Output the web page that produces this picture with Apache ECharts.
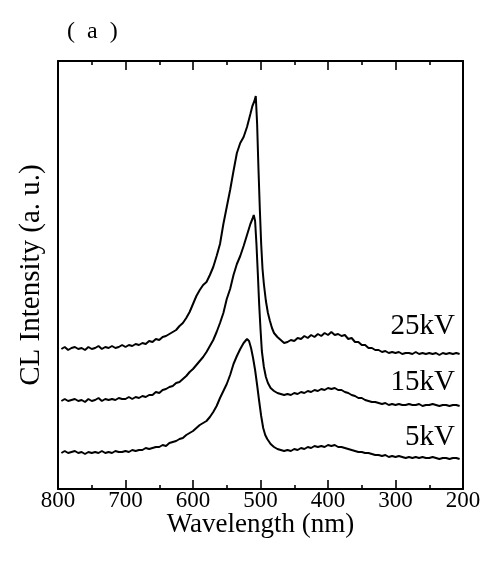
<!DOCTYPE html>
<html>
<head>
<meta charset="utf-8">
<script src="https://cdn.jsdelivr.net/npm/echarts@6/dist/echarts.min.js"></script>
<style>
  html, body { margin: 0; padding: 0; background: #fff; }
  #chart { width: 486px; height: 566px; }
</style>
</head>
<body>
<div id="chart"></div>
<script>
// CL spectra at three beam voltages, offset vertically (a.u.)
const FONT = "'Liberation Serif', 'Times New Roman', serif";

const kv25 = [
  [795, 140], [790, 142], [785, 139], [780, 141], [775, 142], [770, 140], [765, 141], [760, 139],
  [755, 142], [750, 140], [745, 141], [740, 143], [735, 140], [730, 142], [725, 141], [720, 143],
  [715, 141], [710, 142], [705, 144], [700, 142], [695, 144], [690, 143], [685, 145], [680, 144],
  [675, 146], [670, 145], [665, 148], [660, 147], [655, 150], [650, 149], [645, 152], [640, 153],
  [635, 155], [630, 157], [625, 159], [620, 163], [615, 166], [610, 171], [605, 177], [600, 185],
  [595, 193], [590, 199], [585, 204], [580, 207], [575, 214], [570, 222], [565, 233], [560, 245],
  [555, 265], [550, 282], [545, 299], [540, 318], [535, 336], [530, 346], [525, 352], [520, 362],
  [515, 375], [512, 383], [509, 388], [507, 393], [506, 391], [505, 365], [503, 320], [501, 280],
  [499, 245], [497, 220], [495, 205], [492, 188], [489, 176], [486, 168], [483, 161], [480, 156],
  [475, 152], [470, 149], [465, 146], [460, 147], [455, 149], [450, 148], [445, 151], [440, 150],
  [435, 153], [430, 151], [425, 154], [420, 152], [415, 155], [410, 153], [405, 156], [400, 154],
  [395, 157], [390, 154], [385, 155], [380, 153], [375, 154], [370, 150], [365, 151], [360, 147],
  [355, 147], [350, 144], [345, 144], [340, 141], [335, 141], [330, 139], [325, 139], [320, 137],
  [315, 138], [310, 136], [305, 137], [300, 136], [295, 137], [290, 135], [285, 136], [280, 136],
  [275, 135], [270, 137], [265, 135], [260, 136], [255, 135], [250, 136], [245, 135], [240, 136],
  [235, 134], [230, 136], [225, 135], [220, 136], [215, 135], [210, 136], [205, 135]
];

const kv15 = [
  [795, 88], [790, 90], [785, 88], [780, 89], [775, 90], [770, 88], [765, 89], [760, 87],
  [755, 90], [750, 88], [745, 89], [740, 91], [735, 88], [730, 90], [725, 89], [720, 90],
  [715, 89], [710, 91], [705, 90], [700, 90], [695, 92], [690, 90], [685, 92], [680, 91],
  [675, 93], [670, 92], [665, 94], [660, 94], [655, 97], [650, 96], [645, 99], [640, 100],
  [635, 102], [630, 103], [625, 106], [620, 107], [615, 110], [610, 113], [605, 117], [600, 120],
  [595, 124], [590, 128], [585, 132], [580, 137], [575, 143], [570, 149], [565, 157], [560, 166],
  [555, 176], [550, 190], [545, 200], [540, 214], [535, 225], [530, 233], [525, 243], [520, 254],
  [515, 265], [512, 270], [510, 274], [508, 268], [506, 245], [504, 216], [502, 185], [500, 160],
  [498, 138], [495, 122], [492, 112], [489, 106], [485, 101], [480, 98], [475, 96], [470, 95],
  [465, 94], [460, 95], [455, 94], [450, 96], [445, 95], [440, 97], [435, 96], [430, 98],
  [425, 97], [420, 99], [415, 98], [410, 100], [405, 99], [400, 101], [395, 100], [390, 101],
  [385, 99], [380, 99], [375, 97], [370, 96], [365, 94], [360, 93], [355, 91], [350, 91],
  [345, 89], [340, 88], [335, 87], [330, 87], [325, 86], [320, 85], [315, 86], [310, 84],
  [305, 85], [300, 84], [295, 85], [290, 84], [285, 84], [280, 85], [275, 84], [270, 84],
  [265, 85], [260, 83], [255, 84], [250, 84], [245, 85], [240, 84], [235, 83], [230, 84],
  [225, 84], [220, 83], [215, 84], [210, 84], [205, 83]
];

const kv5 = [
  [795, 36], [790, 38], [785, 36], [780, 37], [775, 38], [770, 36], [765, 37], [760, 35],
  [755, 37], [750, 36], [745, 37], [740, 36], [735, 38], [730, 36], [725, 37], [720, 36],
  [715, 38], [710, 37], [705, 37], [700, 38], [695, 37], [690, 39], [685, 38], [680, 39],
  [675, 39], [670, 41], [665, 40], [660, 41], [655, 42], [650, 42], [645, 44], [640, 43],
  [635, 46], [630, 47], [625, 48], [620, 50], [615, 51], [610, 54], [605, 56], [600, 58],
  [595, 61], [590, 64], [585, 66], [580, 68], [575, 72], [570, 77], [565, 83], [560, 91],
  [555, 98], [550, 105], [545, 114], [540, 125], [535, 133], [530, 140], [525, 146], [520, 150],
  [517, 148], [514, 141], [511, 131], [508, 119], [505, 104], [502, 88], [499, 73], [496, 61],
  [493, 54], [490, 50], [485, 45], [480, 42], [475, 40], [470, 39], [465, 38], [460, 39],
  [455, 38], [450, 40], [445, 39], [440, 41], [435, 40], [430, 42], [425, 41], [420, 43],
  [415, 42], [410, 43], [405, 42], [400, 44], [395, 43], [390, 44], [385, 42], [380, 42],
  [375, 41], [370, 40], [365, 39], [360, 38], [355, 37], [350, 37], [345, 36], [340, 36],
  [335, 35], [330, 34], [325, 34], [320, 33], [315, 34], [310, 32], [305, 33], [300, 32],
  [295, 33], [290, 32], [285, 31], [280, 32], [275, 31], [270, 32], [265, 31], [260, 32],
  [255, 31], [250, 31], [245, 32], [240, 31], [235, 30], [230, 31], [225, 31], [220, 30],
  [215, 31], [210, 31], [205, 30]
];

const seriesNames = ['25kV', '15kV', '5kV'];
const seriesData = [kv25, kv15, kv5];
// where each voltage tag sits (wavelength, intensity)
const tagAt = [[209, 163], [209, 107], [209, 52]];

const xTicks = { min: 200, max: 800, interval: 100 };

const chart = echarts.init(document.getElementById('chart'), null, { renderer: 'canvas' });

const tickStyle = { color: '#000', width: 1.6 };
const lineStyle = { color: '#000', width: 2 };

function xAxisBase(pos) {
  return {
    type: 'value', position: pos, inverse: true,
    min: xTicks.min, max: xTicks.max, interval: xTicks.interval,
    axisLine: { show: true, onZero: false, lineStyle },
    axisTick: { show: true, inside: true, length: 9, lineStyle: tickStyle },
    minorTick: { show: true, splitNumber: 2, length: 4, lineStyle: tickStyle },
    splitLine: { show: false },
  };
}

chart.setOption({
  animation: false,
  backgroundColor: '#fff',
  textStyle: { fontFamily: FONT, color: '#000' },
  title: {
    text: '(\u2002a\u2002)', left: 62, top: 15,
    textStyle: { fontFamily: FONT, fontSize: 24, fontWeight: 'normal', color: '#000' },
  },
  grid: { left: 58, right: 23, top: 61, bottom: 77 },
  xAxis: [
    Object.assign(xAxisBase('bottom'), {
      name: 'Wavelength (nm)', nameLocation: 'middle', nameGap: 22, nameMoveOverlap: false,
      nameTextStyle: { fontFamily: FONT, fontSize: 27, color: '#000' },
      axisLabel: { fontFamily: FONT, fontSize: 23, color: '#000', margin: 0 },
    }),
    Object.assign(xAxisBase('top'), { axisLabel: { show: false } }),
  ],
  yAxis: [
    {
      type: 'value', min: 0, max: 428, position: 'left',
      name: 'CL Intensity (a. u.)', nameLocation: 'middle', nameGap: 12, nameMoveOverlap: false,
      nameTextStyle: { fontFamily: FONT, fontSize: 29, color: '#000' },
      axisLine: { show: true, lineStyle }, axisTick: { show: false },
      axisLabel: { show: false }, splitLine: { show: false },
    },
    {
      type: 'value', min: 0, max: 428, position: 'right',
      axisLine: { show: true, lineStyle }, axisTick: { show: false },
      axisLabel: { show: false }, splitLine: { show: false },
    },
  ],
  series: seriesData.map((d, i) => ({
    type: 'line', name: seriesNames[i], data: d,
    showSymbol: false, smooth: false,
    lineStyle: { color: '#000', width: 2 },
    markPoint: {
      symbol: 'circle', symbolSize: 0, silent: true,
      itemStyle: { color: 'transparent' },
      label: {
        show: true, position: 'left', distance: 2, formatter: seriesNames[i],
        fontFamily: FONT, fontSize: 29, color: '#000',
      },
      data: [{ coord: tagAt[i] }],
    },
  })),
});
</script>
</body>
</html>
